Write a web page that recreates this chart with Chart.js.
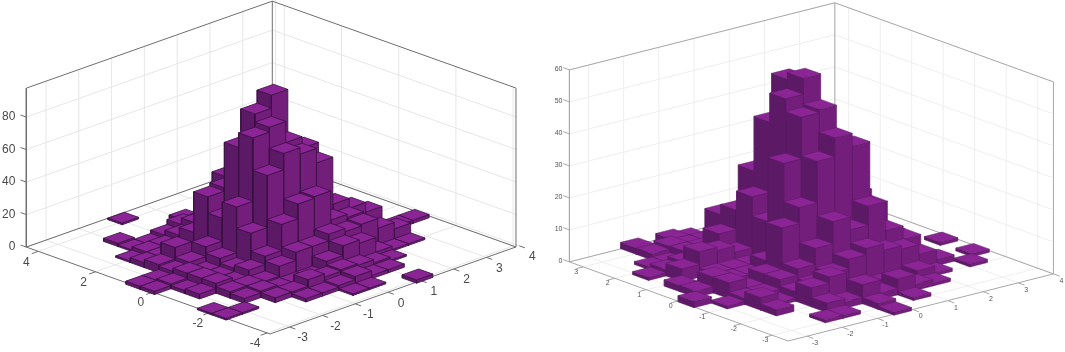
<!DOCTYPE html>
<html>
<head>
<meta charset="utf-8">
<style>
  html, body { margin: 0; padding: 0; background: #fff; }
  #wrap { position: relative; width: 1065px; height: 352px; overflow: hidden; }
  canvas { position: absolute; top: 0; }
</style>
<script src="https://cdn.jsdelivr.net/npm/chart.js@4/dist/chart.umd.js"></script>
</head>
<body>
<div id="wrap">
  <canvas id="leftChart" width="548" height="352" style="left:0"></canvas>
  <canvas id="rightChart" width="517" height="352" style="left:548px"></canvas>
</div>
<script>
// left histogram
const xBinsLeft = [-3.425, -2.925, -2.425, -1.925, -1.425, -0.925, -0.425, 0.075, 0.575, 1.075, 1.575, 2.075, 2.575, 3.075, 3.575];
const yBinsLeft = [4.1, 3.6, 3.1, 2.6, 2.1, 1.6, 1.1, 0.6, 0.1, -0.4, -0.9, -1.4, -1.9, -2.4, -2.9, -3.4, -3.9];
const countsLeft = [
  [0, 0, 0, 0, 0, 1, 0, 0, 0, 0, 0, 0, 0, 0, 0],
  [0, 0, 0, 0, 0, 0, 0, 0, 0, 0, 0, 0, 0, 0, 0],
  [0, 0, 0, 2, 0, 0, 0, 2, 0, 0, 0, 0, 0, 0, 0],
  [0, 0, 0, 1, 1, 3, 6, 4, 0, 0, 0, 0, 0, 0, 0],
  [0, 0, 1, 3, 3, 6, 10, 14, 8, 0, 0, 0, 0, 0, 0],
  [0, 0, 3, 3, 4, 11, 20, 38, 14, 8, 0, 0, 0, 0, 0],
  [0, 0, 5, 12, 3, 36, 38, 46, 20, 14, 0, 0, 0, 0, 0],
  [2, 2, 4, 6, 12, 26, 66, 83, 91, 30, 12, 0, 0, 0, 0],
  [2, 3, 6, 3, 8, 36, 75, 78, 65, 58, 22, 8, 0, 0, 0],
  [0, 2, 6, 3, 5, 23, 55, 65, 61, 52, 23, 17, 11, 0, 0],
  [0, 3, 6, 3, 7, 12, 28, 37, 38, 20, 18, 4, 3, 2, 2],
  [0, 0, 4, 4, 3, 9, 14, 14, 18, 16, 17, 11, 7, 0, 0],
  [1, 0, 3, 4, 2, 2, 2, 8, 14, 12, 3, 1, 1, 0, 0],
  [1, 1, 0, 3, 3, 7, 5, 6, 5, 3, 1, 0, 0, 0, 0],
  [0, 0, 0, 0, 2, 2, 3, 5, 2, 2, 0, 0, 0, 0, 0],
  [0, 0, 0, 0, 0, 0, 1, 1, 0, 0, 0, 0, 0, 0, 0],
  [0, 0, 0, 0, 0, 0, 0, 0, 0, 2, 0, 0, 0, 0, 0]
];
const xTicksLeft = [-3, -2, -1, 0, 1, 2, 3, 4];
const yTicksLeft = [-4, -2, 0, 2, 4];
const zTicksLeft = [0, 20, 40, 60, 80];

// right histogram
const xBinsRight = [-3.325, -2.825, -2.325, -1.825, -1.325, -0.825, -0.325, 0.175, 0.675, 1.175, 1.675, 2.175, 2.675, 3.175, 3.675];
const yBinsRight = [3.2, 2.7, 2.2, 1.7, 1.2, 0.7, 0.2, -0.3, -0.8, -1.3, -1.8, -2.3, -2.8, -3.3];
const countsRight = [
  [0, 0, 0, 2, 0, 2, 1, 0, 0, 0, 0, 0, 0, 0, 0],
  [0, 0, 0, 2, 3, 2, 2, 0, 0, 0, 0, 0, 0, 0, 0],
  [0, 0, 1, 1, 3, 3, 12, 10, 6, 0, 0, 0, 0, 0, 0],
  [0, 1, 2, 3, 4, 9, 15, 26, 14, 0, 0, 0, 0, 0, 0],
  [0, 0, 4, 8, 7, 5, 21, 43, 55, 8, 0, 0, 0, 0, 0],
  [0, 2, 0, 3, 3, 3, 15, 52, 57, 25, 0, 0, 0, 0, 0],
  [0, 2, 5, 3, 3, 6, 35, 48, 49, 36, 20, 6, 0, 0, 0],
  [2, 0, 5, 2, 5, 18, 23, 36, 42, 38, 18, 8, 0, 0, 1],
  [0, 1, 2, 2, 5, 7, 12, 19, 15, 21, 12, 8, 0, 0, 0],
  [0, 0, 4, 1, 3, 4, 6, 9, 11, 9, 8, 5, 2, 0, 1],
  [0, 0, 2, 0, 6, 8, 3, 3, 2, 0, 3, 1, 0, 1, 0],
  [0, 0, 0, 0, 3, 2, 6, 2, 5, 2, 1, 0, 0, 0, 0],
  [0, 0, 0, 1, 1, 0, 2, 0, 1, 0, 0, 0, 0, 0, 0],
  [0, 0, 0, 0, 0, 0, 1, 0, 0, 0, 0, 0, 0, 0, 0]
];
const xTicksRight = [-3, -2, -1, 0, 1, 2, 3, 4];
const yTicksRight = [-3, -2, -1, 0, 1, 2, 3];
const zTicksRight = [0, 10, 20, 30, 40, 50, 60];

const TOP_COLOR = '#8b2595';
const LEFT_COLOR = '#5c1a66';
const RIGHT_COLOR = '#731e7b';

// oblique view of each panel, in page pixels per data unit
const leftView = {
  origin: [270.8, 250.4], perX: [32.8, -11.6], perY: [-28.6, -10.2], perZ: -1.625,
  xRange: [-3.6, 3.9], yRange: [-4.1, 4.42], zMax: 97.8,
  boxColor: '#6e6e6e', gridColor: '#e6e6e6', edgeColor: '#3a1042', edgeWidth: 0.8,
  font: '12px "Liberation Sans"', textColor: '#4a4a4a',
  yLabel: [-12, 11], xLabel: [13, 11], zLabel: [-11, 0],
  barHalf: 0.25
};
const rightView = {
  origin: [802.4, 269.6], perX: [35.2, -8.9], perY: [-31.5, -11.4], perZ: -3.2,
  xRange: [-3.54, 4], yRange: [-3.5, 3.44], zMax: 60,
  boxColor: '#a8a8a8', gridColor: '#eeeeee', edgeColor: '#5c1b65', edgeWidth: 0.5,
  font: '7px "Liberation Sans"', textColor: '#555',
  yLabel: [-7, 5], xLabel: [8, 7], zLabel: [-7, -1],
  barHalf: 0.25
};

function renderPanel(canvasId, view, xBins, yBins, counts, xTicks, yTicks, zTicks, xLimits) {
  const project = (x, y, z) => ({
    x: view.origin[0] + x * view.perX[0] + y * view.perY[0],
    y: view.origin[1] + x * view.perX[1] + y * view.perY[1] + z * view.perZ
  });

  const datasets = [];
  const addLine = (pts, color, width) => datasets.push({
    data: pts, showLine: true, fill: false, borderColor: color, borderWidth: width,
    pointRadius: 0, order: -datasets.length
  });
  const addFace = (pts, color) => datasets.push({
    data: [...pts, pts[0]], showLine: true, fill: 'shape', backgroundColor: color,
    borderColor: view.edgeColor, borderWidth: view.edgeWidth,
    pointRadius: 0, order: -datasets.length
  });

  const [x0, x1] = view.xRange;
  const [y0, y1] = view.yRange;
  const zTop = view.zMax;

  // Grade das paredes e do chao
  xTicks.forEach(t => {
    addLine([project(t, y1, 0), project(t, y1, zTop)], view.gridColor, 1);
    addLine([project(t, y0, 0), project(t, y1, 0)], view.gridColor, 1);
  });
  yTicks.forEach(t => {
    addLine([project(x1, t, 0), project(x1, t, zTop)], view.gridColor, 1);
    addLine([project(x0, t, 0), project(x1, t, 0)], view.gridColor, 1);
  });
  zTicks.forEach(t => {
    addLine([project(x0, y1, t), project(x1, y1, t), project(x1, y0, t)], view.gridColor, 1);
  });

  // Caixa e marcas dos eixos
  addLine([project(x0, y1, zTop), project(x0, y1, 0), project(x0, y0, 0), project(x1, y0, 0), project(x1, y0, zTop)], view.boxColor, 1);
  addLine([project(x0, y1, zTop), project(x1, y1, zTop), project(x1, y0, zTop)], view.boxColor, 1);
  addLine([project(x1, y1, 0), project(x1, y1, zTop)], view.boxColor, 1);
  addLine([project(x0, y1, 0), project(x1, y1, 0), project(x1, y0, 0)], view.boxColor, 1);
  xTicks.forEach(t => addLine([project(t, y0, 0), project(t, y0 - 0.2, 0)], view.boxColor, 1));
  yTicks.forEach(t => addLine([project(x0, t, 0), project(x0 - 0.2, t, 0)], view.boxColor, 1));
  zTicks.forEach(t => addLine([project(x0, y1, t), project(x0, y1 + 0.2, t)], view.boxColor, 1));

  // Barras de tras para a frente
  const w = view.barHalf;
  counts.forEach((row, r) => {
    for (let c = row.length - 1; c >= 0; c--) {
      const z = row[c];
      if (!z) continue;
      const x = xBins[c];
      const y = yBins[r];
      addFace([project(x - w, y + w, 0), project(x - w, y - w, 0), project(x - w, y - w, z), project(x - w, y + w, z)], LEFT_COLOR);
      addFace([project(x - w, y - w, 0), project(x + w, y - w, 0), project(x + w, y - w, z), project(x - w, y - w, z)], RIGHT_COLOR);
      addFace([project(x - w, y - w, z), project(x + w, y - w, z), project(x + w, y + w, z), project(x - w, y + w, z)], TOP_COLOR);
    }
  });

  const tickText = {
    id: 'tickText',
    afterDraw(chart) {
      const { ctx, scales } = chart;
      const put = (p, off, text, align) => {
        ctx.textAlign = align;
        ctx.fillText(text, scales.x.getPixelForValue(p.x) + off[0], scales.y.getPixelForValue(p.y) + off[1]);
      };
      ctx.save();
      ctx.font = view.font;
      ctx.fillStyle = view.textColor;
      ctx.textBaseline = 'middle';
      xTicks.forEach(t => put(project(t, y0, 0), view.xLabel, String(t), 'center'));
      yTicks.forEach(t => put(project(x0, t, 0), view.yLabel, String(t), 'center'));
      zTicks.forEach(t => put(project(x0, y1, t), view.zLabel, String(t), 'right'));
      ctx.restore();
    }
  };

  return new Chart(document.getElementById(canvasId).getContext('2d'), {
    type: 'scatter',
    data: { datasets },
    plugins: [tickText],
    options: {
      responsive: false,
      animation: false,
      layout: { padding: 0 },
      events: [],
      plugins: { legend: { display: false }, tooltip: { enabled: false } },
      scales: {
        x: { type: 'linear', display: false, min: xLimits[0], max: xLimits[1] },
        y: { type: 'linear', display: false, min: 0, max: 352, reverse: true }
      }
    }
  });
}

renderPanel('leftChart', leftView, xBinsLeft, yBinsLeft, countsLeft, xTicksLeft, yTicksLeft, zTicksLeft, [0, 548]);
renderPanel('rightChart', rightView, xBinsRight, yBinsRight, countsRight, xTicksRight, yTicksRight, zTicksRight, [548, 1065]);
</script>
</body>
</html>
